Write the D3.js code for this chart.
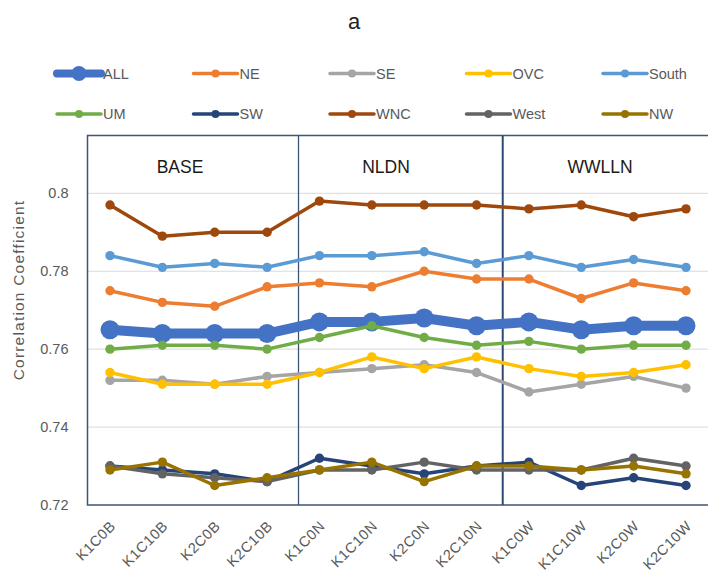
<!DOCTYPE html>
<html>
<head>
<meta charset="utf-8">
<script src="https://cdn.jsdelivr.net/npm/d3@7"></script>
<style>
  html, body { margin: 0; padding: 0; background: #ffffff; }
  svg { display: block; }
</style>
</head>
<body>
<svg id="chart" width="708" height="575"></svg>
<script>
// Categories (kernel / cutoff / lightning source)
const categories = ["K1C0B", "K1C10B", "K2C0B", "K2C10B",
                    "K1C0N", "K1C10N", "K2C0N", "K2C10N",
                    "K1C0W", "K1C10W", "K2C0W", "K2C10W"];

// Correlation coefficient per region
const ALL   = [0.765, 0.764, 0.764, 0.764, 0.767, 0.767, 0.768, 0.766, 0.767, 0.765, 0.766, 0.766];
const NE    = [0.775, 0.772, 0.771, 0.776, 0.777, 0.776, 0.780, 0.778, 0.778, 0.773, 0.777, 0.775];
const SE    = [0.752, 0.752, 0.751, 0.753, 0.754, 0.755, 0.756, 0.754, 0.749, 0.751, 0.753, 0.750];
const OVC   = [0.754, 0.751, 0.751, 0.751, 0.754, 0.758, 0.755, 0.758, 0.755, 0.753, 0.754, 0.756];
const South = [0.784, 0.781, 0.782, 0.781, 0.784, 0.784, 0.785, 0.782, 0.784, 0.781, 0.783, 0.781];
const UM    = [0.760, 0.761, 0.761, 0.760, 0.763, 0.766, 0.763, 0.761, 0.762, 0.760, 0.761, 0.761];
const SW    = [0.730, 0.729, 0.728, 0.726, 0.732, 0.730, 0.728, 0.730, 0.731, 0.725, 0.727, 0.725];
const WNC   = [0.797, 0.789, 0.790, 0.790, 0.798, 0.797, 0.797, 0.797, 0.796, 0.797, 0.794, 0.796];
const West  = [0.730, 0.728, 0.727, 0.726, 0.729, 0.729, 0.731, 0.729, 0.729, 0.729, 0.732, 0.730];
const NW    = [0.729, 0.731, 0.725, 0.727, 0.729, 0.731, 0.726, 0.730, 0.730, 0.729, 0.730, 0.728];

const seriesNames = ["ALL", "NE", "SE", "OVC", "South", "UM", "SW", "WNC", "West", "NW"];
const seriesValues = [ALL, NE, SE, OVC, South, UM, SW, WNC, West, NW];
const seriesColors = ["#4472C4", "#ED7D31", "#A5A5A5", "#FFC000", "#5B9BD5",
                      "#70AD47", "#264478", "#9E480E", "#636363", "#997300"];

const yTicks = [0.72, 0.74, 0.76, 0.78, 0.80];
const sectionLabels = ["BASE", "NLDN", "WWLLN"];

const svg = d3.select("#chart");
const W = 708;

// Plot frame
const frame = { left: 87.5, top: 135.5, right: 712, bottom: 505 };

const x = d3.scalePoint().domain(categories).range([110, 686]);
const y = d3.scaleLinear().domain([0.72, 0.80]).range([505, 193.3]);
const step = x.step();

// Title
svg.append("text")
  .attr("x", 354).attr("y", 29)
  .attr("text-anchor", "middle")
  .attr("font-family", "'Liberation Sans', Arial, sans-serif")
  .attr("font-size", 22)
  .attr("fill", "#222")
  .text("a");

// Legend (two rows of five)
const legend = svg.append("g");
seriesNames.forEach((name, i) => {
  const col = i % 5, row = Math.floor(i / 5);
  const x0 = 57 + col * 136.5;
  const yy = 73.5 + row * 40.5;
  const isAll = name === "ALL";
  const g = legend.append("g");
  g.append("line")
    .attr("x1", x0).attr("x2", x0 + 44)
    .attr("y1", yy).attr("y2", yy)
    .attr("stroke", seriesColors[i])
    .attr("stroke-width", isAll ? 8 : 3.5)
    .attr("stroke-linecap", "round");
  g.append("circle")
    .attr("cx", x0 + 22).attr("cy", yy)
    .attr("r", isAll ? 7.5 : 4)
    .attr("fill", seriesColors[i]);
  g.append("text")
    .attr("x", x0 + 46).attr("y", yy + 5)
    .attr("font-family", "'Liberation Sans', Arial, sans-serif")
    .attr("font-size", 14.5)
    .attr("fill", "#595959")
    .text(name);
});

// Horizontal gridlines
svg.append("g")
  .selectAll("line")
  .data(yTicks.filter(t => t > 0.72))
  .join("line")
  .attr("x1", frame.left).attr("x2", W)
  .attr("y1", d => y(d)).attr("y2", d => y(d))
  .attr("stroke", "#D9D9D9")
  .attr("stroke-width", 1);

// Y axis tick labels
const yAxis = d3.axisLeft(y)
  .tickValues(yTicks)
  .tickSize(0)
  .tickPadding(0)
  .tickFormat(d => String(+d.toFixed(2)));
const yg = svg.append("g")
  .attr("transform", `translate(${68.5},0)`)
  .call(yAxis);
yg.select(".domain").remove();
yg.selectAll("text")
  .attr("font-family", "'Liberation Sans', Arial, sans-serif")
  .attr("font-size", 14.5)
  .attr("fill", "#595959");

// Y axis title
svg.append("text")
  .attr("transform", "translate(24,290) rotate(-90)")
  .attr("text-anchor", "middle")
  .attr("font-family", "'Liberation Sans', Arial, sans-serif")
  .attr("font-size", 15.5)
  .attr("letter-spacing", 1.2)
  .attr("fill", "#595959")
  .text("Correlation Coefficient");

// X axis tick labels, rotated
const xAxis = d3.axisBottom(x).tickSize(0).tickPadding(0);
const xg = svg.append("g")
  .attr("transform", `translate(0,${frame.bottom})`)
  .call(xAxis);
xg.select(".domain").remove();
xg.selectAll("text")
  .attr("font-family", "'Liberation Sans', Arial, sans-serif")
  .attr("font-size", 14.5)
  .attr("letter-spacing", 0.6)
  .attr("fill", "#595959")
  .attr("text-anchor", "end")
  .attr("dy", null)
  .attr("y", 0)
  .attr("transform", "translate(6,22) rotate(-45)");

// Frame and section dividers
const div1 = x("K2C10B") + step * 0.6;
const div2 = x("K2C10N") + step * 0.5;
svg.append("rect")
  .attr("x", frame.left).attr("y", frame.top)
  .attr("width", frame.right - frame.left)
  .attr("height", frame.bottom - frame.top)
  .attr("fill", "none")
  .attr("stroke", "#3E5573")
  .attr("stroke-width", 1.5);
svg.append("line")
  .attr("x1", div1).attr("x2", div1)
  .attr("y1", frame.top).attr("y2", frame.bottom)
  .attr("stroke", "#3E5573").attr("stroke-width", 1.3);
svg.append("line")
  .attr("x1", div2).attr("x2", div2)
  .attr("y1", frame.top).attr("y2", frame.bottom)
  .attr("stroke", "#2F4A72").attr("stroke-width", 2);

// Section labels
const sectionX = [180, 386, 600];
svg.append("g")
  .selectAll("text")
  .data(sectionLabels)
  .join("text")
  .attr("x", (d, i) => sectionX[i])
  .attr("y", 173)
  .attr("text-anchor", "middle")
  .attr("font-family", "'Liberation Sans', Arial, sans-serif")
  .attr("font-size", 17.5)
  .attr("fill", "#1a1a1a")
  .text(d => d);

// Series lines with markers
const line = d3.line()
  .x((d, i) => x(categories[i]))
  .y(d => y(d));

seriesNames.forEach((name, si) => {
  const isAll = name === "ALL";
  const vals = seriesValues[si];
  const g = svg.append("g");
  g.append("path")
    .attr("d", line(vals))
    .attr("fill", "none")
    .attr("stroke", seriesColors[si])
    .attr("stroke-width", isAll ? 10 : 3.5)
    .attr("stroke-linejoin", "round");
  g.selectAll("circle")
    .data(vals)
    .join("circle")
    .attr("cx", (d, i) => x(categories[i]))
    .attr("cy", d => y(d))
    .attr("r", isAll ? 9.5 : 4.7)
    .attr("fill", seriesColors[si]);
});
</script>
</body>
</html>
